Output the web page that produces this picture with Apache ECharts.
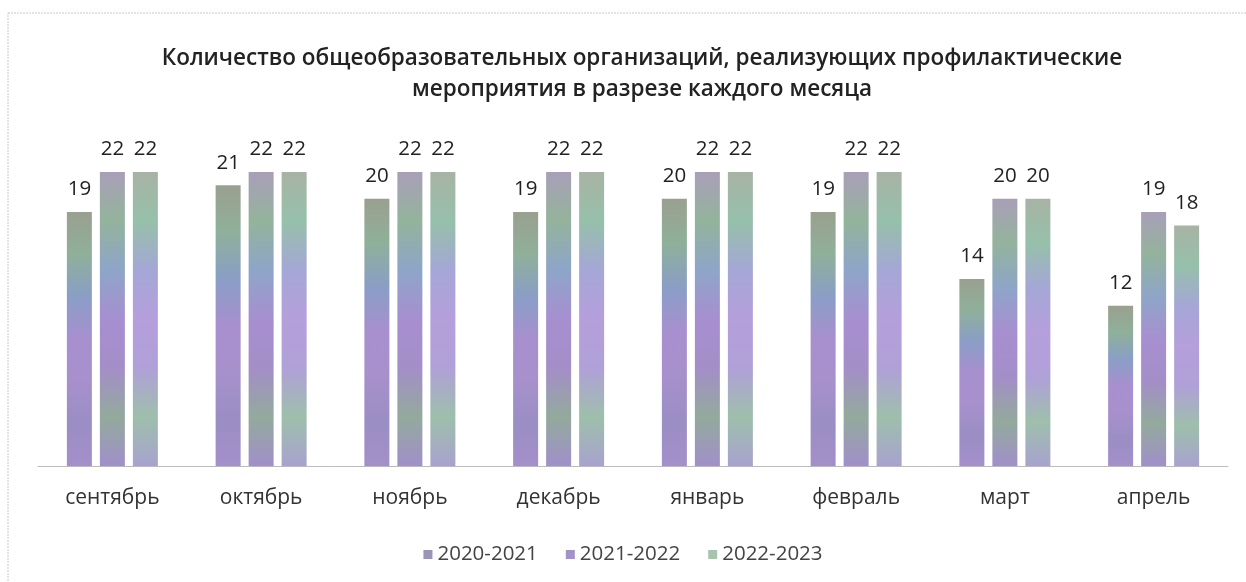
<!DOCTYPE html>
<html>
<head>
<meta charset="utf-8">
<script src="https://cdn.jsdelivr.net/npm/echarts@6/dist/echarts.min.js"></script>
<style>html,body{margin:0;padding:0;background:#fff}#c{width:1246px;height:582px}</style>
</head>
<body>
<div id="c"></div>
<script>
const categories = ['сентябрь','октябрь','ноябрь','декабрь','январь','февраль','март','апрель'];
const seriesNames = ['2020-2021','2021-2022','2022-2023'];
const values2020 = [19,21,20,19,20,19,14,12];
const values2021 = [22,22,22,22,22,22,20,19];
const values2022 = [22,22,22,22,22,22,20,18];
const titleText = 'Количество общеобразовательных организаций, реализующих профилактические\nмероприятия в разрезе каждого месяца';

const FONT = '"Open Sans", sans-serif';
function grad(stops){
  return new echarts.graphic.LinearGradient(0,0,0,1, stops.map((c,i)=>({offset:i/(stops.length-1), color:c})));
}
const fills = [
  grad(['#9aa08f','#8fb09a','#8a9ec6','#a88fcf','#a790cc','#9a8ec4','#a48fca']),
  grad(['#a99fb8','#94b39c','#8ea5c8','#a78fd0','#a48ec8','#93aa9c','#a18fca']),
  grad(['#a8b3a4','#96c0aa','#a5a7d6','#b59fdc','#b0a0d8','#9ebfab','#a8a2cf'])
];
const legendColors = ['#9a94b8','#a292c8','#a8c4ae'];
const dataSets = [values2020, values2021, values2022];

const chart = echarts.init(document.getElementById('c'));
chart.setOption({
  animation:false,
  title:{text:titleText,left:637,textAlign:'center',top:38,
    textStyle:{fontFamily:FONT,fontSize:22.5,fontWeight:600,color:'#222',lineHeight:31}},
  legend:{top:539,left:'center',itemWidth:9,itemHeight:9,itemGap:28,itemTextGap:14,icon:'rect',
    textStyle:{fontFamily:FONT,fontSize:20.5,color:'#444'},
    data:seriesNames.map((n,i)=>({name:n,itemStyle:{color:legendColors[i]}}))},
  grid:{left:38,right:18,top:172,bottom:116},
  xAxis:{type:'category',data:categories,
    axisLine:{lineStyle:{color:'#bbb',width:1}},axisTick:{show:false},
    axisLabel:{fontFamily:FONT,fontSize:21,color:'#333',margin:22}},
  yAxis:{type:'value',min:0,max:22,show:false,splitLine:{show:false}},
  graphic:[{type:'rect',shape:{x:8,y:13,width:1250,height:600},style:{fill:'none',stroke:'#c8c8c8',lineWidth:1,lineDash:[2,1]},silent:true}],
  series:dataSets.map((d,i)=>({
    name:seriesNames[i],type:'bar',data:d,barWidth:25,barGap:'32%',
    itemStyle:{color:fills[i]},
    label:{show:true,position:'top',distance:12,fontFamily:FONT,fontSize:20.5,color:'#222'}
  }))
});
</script>
</body>
</html>
